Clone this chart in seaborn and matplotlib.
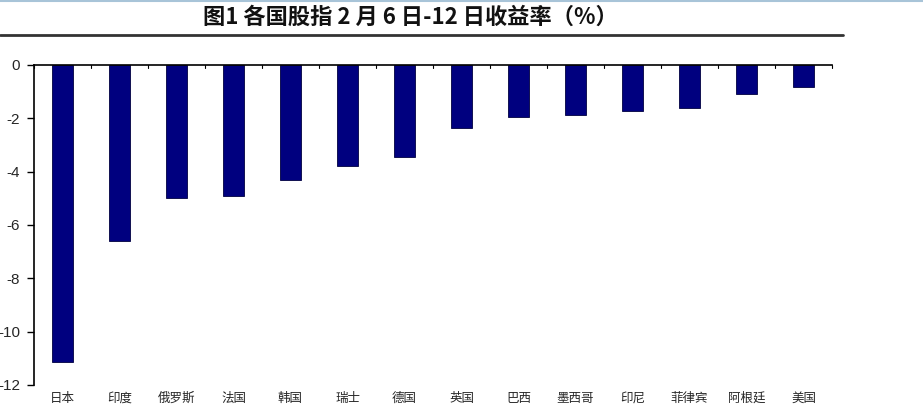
import matplotlib.pyplot as plt
import matplotlib as mpl
import seaborn as sns
import pandas as pd

# fig 1: index returns, Feb 6-12
countries = ['日本', '印度', '俄罗斯', '法国', '韩国', '瑞士', '德国',
             '英国', '巴西', '墨西哥', '印尼', '菲律宾', '阿根廷', '美国']
returns = [-11.15, -6.6, -4.98, -4.9, -4.3, -3.78, -3.44,
           -2.36, -1.95, -1.88, -1.73, -1.62, -1.07, -0.83]
yticks = [0, -2, -4, -6, -8, -10, -12]

sns.set_theme(style="white")
plt.rcParams['font.family'] = ['Noto Sans CJK SC', 'DejaVu Sans']
mpl.rcParams['axes.unicode_minus'] = False

data = pd.DataFrame({'country': countries, 'ret': returns})

fig = plt.figure(figsize=(9.23, 4.09), dpi=100)
ax = fig.add_axes([34/923, 1-385/409, 798/923, 320/409])

sns.barplot(data=data, x='country', y='ret', color='#00007f', saturation=1,
            width=0.36, edgecolor='#000040', linewidth=0.6, ax=ax)

ax.set_ylim(-12, 0)
ax.set_xlim(-0.5, len(countries) - 0.5)
ax.set_yticks(yticks)
ax.set_yticklabels([str(t) for t in yticks], family=['Liberation Sans'], fontsize=11)
ax.tick_params(axis='y', left=True, length=5, width=1, color='black', pad=5)
ax.tick_params(axis='x', bottom=False, length=0, pad=5, labelsize=9)
ax.set_xlabel('')
ax.set_ylabel('')

for s in ['right', 'bottom']:
    ax.spines[s].set_visible(False)
for s in ['left', 'top']:
    ax.spines[s].set_color('black')
    ax.spines[s].set_linewidth(1.2)

# small boundary ticks on the zero line
for i in range(len(countries) + 1):
    ax.plot([i - 0.5, i - 0.5], [0, -0.12], color='black', lw=0.8, clip_on=False)

fig.text(0.445, 1-17/409, '图1 各国股指 2 月 6 日-12 日收益率（%）', ha='center', va='center',
         fontsize=16, fontweight='bold', color='#111111')
fig.add_artist(plt.Line2D([0, 843/923], [1-35/409, 1-35/409], color='#333333', lw=2))
fig.add_artist(plt.Line2D([0, 1], [1-1/409, 1-1/409], color='#a8c4d8', lw=1.5))

fig.savefig('out.png', dpi=100)
